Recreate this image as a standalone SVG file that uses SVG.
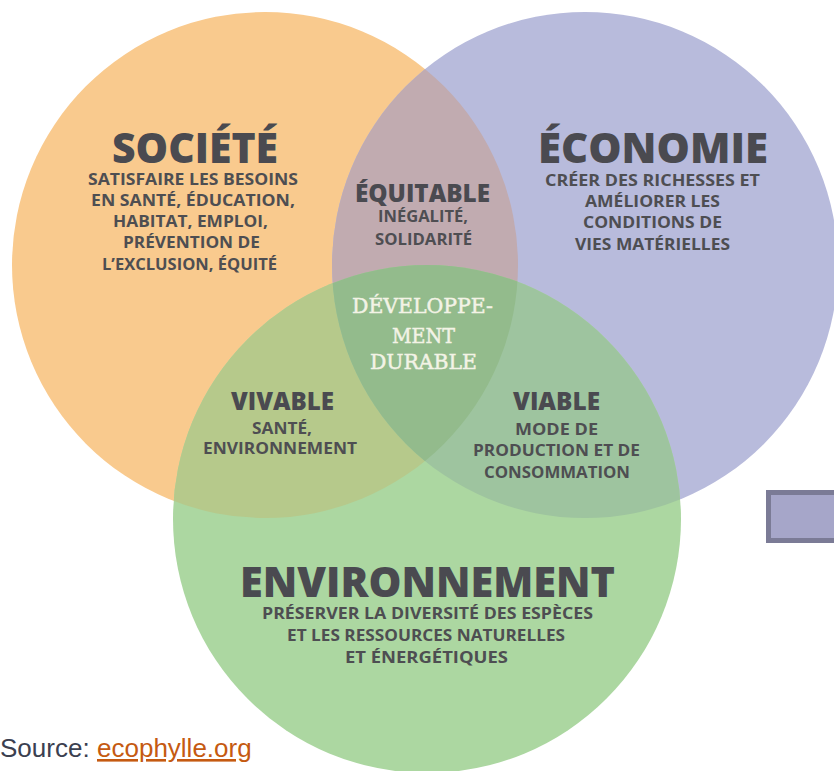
<svg xmlns="http://www.w3.org/2000/svg" width="834" height="771" viewBox="0 0 834 771">
  <style>
    .h { font-family: "Open Sans", "DejaVu Sans", sans-serif; font-weight: 800; fill: #4a4a50; }
    .s { font-family: "Open Sans", "DejaVu Sans", sans-serif; font-weight: 700; fill: #4e4e52; font-size: 15.5px; }
    .m { font-family: "Open Sans", "DejaVu Sans", sans-serif; font-weight: 800; fill: #4a4a50; font-size: 24px; }
    .dd { font-family: "DejaVu Serif", "Liberation Serif", serif; font-weight: 400; fill: #f3f3e6; stroke: #f3f3e6; stroke-width: 0.5px; font-size: 21px; }
  </style>
  <defs>
    <clipPath id="cS"><circle cx="265" cy="265" r="253"/></clipPath>
    <clipPath id="cE"><circle cx="585" cy="265" r="253"/></clipPath>
  </defs>
  <rect width="834" height="771" fill="#ffffff"/>

  <g id="societe">
    <circle cx="265" cy="265" r="253" fill="#f9ca8e"/>
  </g>
  <g id="economie">
    <circle cx="585" cy="265" r="253" fill="#b8bbdc"/>
  </g>
  <g id="environnement">
    <circle cx="427" cy="519" r="254" fill="#acd7a1"/>
  </g>

  <g id="overlaps">
    <circle cx="585" cy="265" r="253" fill="#c1abb0" clip-path="url(#cS)"/>
    <circle cx="427" cy="519" r="254" fill="#b6c98b" clip-path="url(#cS)"/>
    <circle cx="427" cy="519" r="254" fill="#9ec49f" clip-path="url(#cE)"/>
    <g clip-path="url(#cS)">
      <circle cx="427" cy="519" r="254" fill="#93bb8c" clip-path="url(#cE)"/>
    </g>
  </g>

  <g id="societe-text">
    <text class="h" x="112" y="163" font-size="42" textLength="166" lengthAdjust="spacingAndGlyphs">SOCIÉTÉ</text>
    <text class="s" x="88" y="185" textLength="210" lengthAdjust="spacingAndGlyphs">SATISFAIRE LES BESOINS</text>
    <text class="s" x="91" y="206" textLength="204" lengthAdjust="spacingAndGlyphs">EN SANTÉ, ÉDUCATION,</text>
    <text class="s" x="113" y="227" textLength="155" lengthAdjust="spacingAndGlyphs">HABITAT, EMPLOI,</text>
    <text class="s" x="123" y="248" textLength="137" lengthAdjust="spacingAndGlyphs">PRÉVENTION DE</text>
    <text class="s" x="102" y="270" textLength="175" lengthAdjust="spacingAndGlyphs">L’EXCLUSION, ÉQUITÉ</text>
  </g>

  <g id="economie-text">
    <text class="h" x="538" y="163" font-size="42" textLength="230" lengthAdjust="spacingAndGlyphs">ÉCONOMIE</text>
    <text class="s" x="545" y="186" textLength="215" lengthAdjust="spacingAndGlyphs">CRÉER DES RICHESSES ET</text>
    <text class="s" x="585" y="207" textLength="135" lengthAdjust="spacingAndGlyphs">AMÉLIORER LES</text>
    <text class="s" x="583" y="228" textLength="139" lengthAdjust="spacingAndGlyphs">CONDITIONS DE</text>
    <text class="s" x="575" y="250" textLength="155" lengthAdjust="spacingAndGlyphs">VIES MATÉRIELLES</text>
  </g>

  <g id="equitable">
    <text class="m" x="355" y="202" textLength="135" lengthAdjust="spacingAndGlyphs">ÉQUITABLE</text>
    <text class="s" x="378" y="222" textLength="90" lengthAdjust="spacingAndGlyphs">INÉGALITÉ,</text>
    <text class="s" x="375" y="245" textLength="97" lengthAdjust="spacingAndGlyphs">SOLIDARITÉ</text>
  </g>

  <g id="developpement-durable">
    <text class="dd" x="352" y="313" textLength="141" lengthAdjust="spacingAndGlyphs">DÉVELOPPE-</text>
    <text class="dd" x="392" y="343" textLength="63" lengthAdjust="spacingAndGlyphs">MENT</text>
    <text class="dd" x="370" y="369" textLength="107" lengthAdjust="spacingAndGlyphs">DURABLE</text>
  </g>

  <g id="vivable">
    <text class="m" x="231" y="410" textLength="103" lengthAdjust="spacingAndGlyphs">VIVABLE</text>
    <text class="s" x="252" y="434" textLength="60" lengthAdjust="spacingAndGlyphs">SANTÉ,</text>
    <text class="s" x="203" y="454" textLength="154" lengthAdjust="spacingAndGlyphs">ENVIRONNEMENT</text>
  </g>

  <g id="viable">
    <text class="m" x="513" y="410" textLength="87" lengthAdjust="spacingAndGlyphs">VIABLE</text>
    <text class="s" x="515" y="435" textLength="83" lengthAdjust="spacingAndGlyphs">MODE DE</text>
    <text class="s" x="473" y="456" textLength="167" lengthAdjust="spacingAndGlyphs">PRODUCTION ET DE</text>
    <text class="s" x="484" y="478" textLength="146" lengthAdjust="spacingAndGlyphs">CONSOMMATION</text>
  </g>

  <g id="environnement-text">
    <text class="h" x="240" y="597" font-size="42" textLength="375" lengthAdjust="spacingAndGlyphs">ENVIRONNEMENT</text>
    <text class="s" x="262" y="619" textLength="331" lengthAdjust="spacingAndGlyphs">PRÉSERVER LA DIVERSITÉ DES ESPÈCES</text>
    <text class="s" x="287" y="641" textLength="278" lengthAdjust="spacingAndGlyphs">ET LES RESSOURCES NATURELLES</text>
    <text class="s" x="345" y="663" textLength="163" lengthAdjust="spacingAndGlyphs">ET ÉNERGÉTIQUES</text>
  </g>

  <g id="legend-box">
    <rect x="768.5" y="492.5" width="70" height="48" fill="#a6a6c9" stroke="#7b7b96" stroke-width="5"/>
  </g>

  <g id="source">
    <text x="0" y="757" font-family="'Liberation Sans', Arial, sans-serif" font-size="26" fill="#3b4050">Source: <tspan x="97" fill="#c55a11" text-decoration="underline">ecophylle.org</tspan></text>
  </g>
</svg>
